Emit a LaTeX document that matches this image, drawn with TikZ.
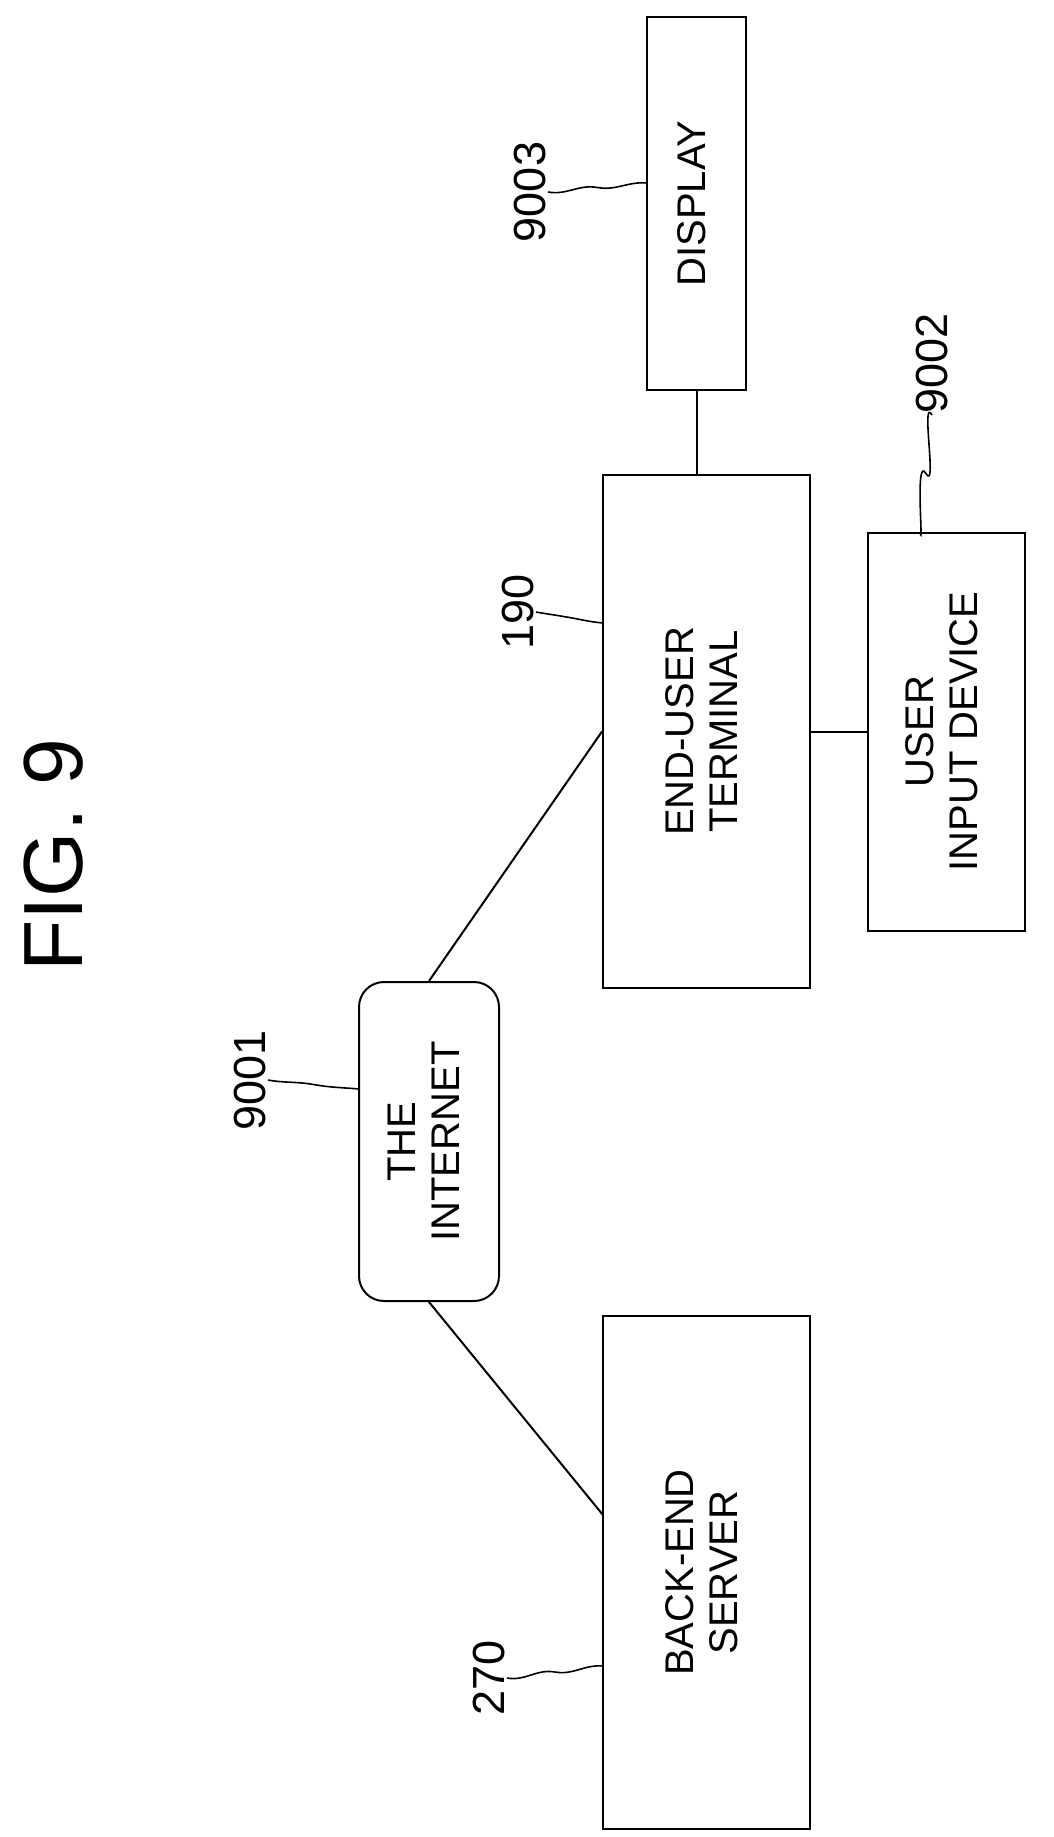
\documentclass[tikz,border=0pt]{standalone}
\usepackage{fontspec}
\setmainfont{Liberation Sans}
\usetikzlibrary{calc}
\tikzset{every picture/.style={line width=2pt}}
\tikzset{
  blk/.style={draw,rectangle,inner sep=0pt,font=\fontsize{40}{44}\selectfont},
  refnum/.style={rotate=90,inner sep=1pt,font=\fontsize{45}{45}\selectfont},
  squig/.style={line width=1.6pt}
}
\newcommand{\vtext}[1]{\rotatebox{90}{\begin{tabular}{@{}c@{}}#1\end{tabular}}}

\begin{document}
\begin{tikzpicture}[x=1pt,y=-1pt]
\useasboundingbox (0,0) rectangle (1054,1837);

% Title
\node (fig) [rotate=90,font=\fontsize{84}{84}\selectfont] at (54,855) {FIG. 9};

% Blocks
\node (disp) [blk,minimum width=99,minimum height=373] at (696.5,203.5) {\vtext{DISPLAY}};
\node (term) [blk,minimum width=207,minimum height=513] at (706.5,731.5) {\vtext{END-USER\\TERMINAL}};
\node (uid) [blk,minimum width=157,minimum height=398] at (946.5,731.5) {\vtext{USER\\INPUT DEVICE}};
\node (net) [blk,rounded corners=25,minimum width=140,minimum height=319] at (429,1141.5) {\vtext{THE\\INTERNET}};
\node (srv) [blk,minimum width=207,minimum height=513] at (706.5,1572.5) {\vtext{BACK-END\\SERVER}};

% Connections
\coordinate (srvpt) at (603,1515);
\draw (disp.south) -- (disp.south |- term.north);
\draw (term.east) -- (uid.west);
\draw (net.north) -- (term.west);
\draw (net.south) -- (srvpt);

% Reference numerals
\node (n9003) [refnum] at (530,192) {9003};
\node (n9002) [refnum] at (932,363) {9002};
\node (n190) [refnum] at (518,612) {190};
\node (n9001) [refnum] at (250,1080) {9001};
\node (n270) [refnum] at (489,1678) {270};

\coordinate (p9003) at (647,183);
\coordinate (p9002) at (920,532);
\coordinate (p190) at (603,623);
\coordinate (p9001) at (359,1089);
\coordinate (p270) at (603,1666);

\draw [squig] (n9003.south) to[out=-10,in=170] ($(n9003.south)!.5!(p9003)$) to[out=-10,in=175] (p9003);
\draw [squig] (n9002.west) to[out=120,in=-60] ($(n9002.west)!.5!(p9002)$) to[out=120,in=-80] (p9002);
\draw [squig] (n190.south) to[out=-10,in=170] ($(n190.south)!.5!(p190)$) to[out=-10,in=175] (p190);
\draw [squig] (n9001.south) to[out=-10,in=170] ($(n9001.south)!.5!(p9001)$) to[out=-10,in=175] (p9001);
\draw [squig] (n270.south) to[out=-10,in=170] ($(n270.south)!.5!(p270)$) to[out=-10,in=175] (p270);

\end{tikzpicture}
\end{document}
